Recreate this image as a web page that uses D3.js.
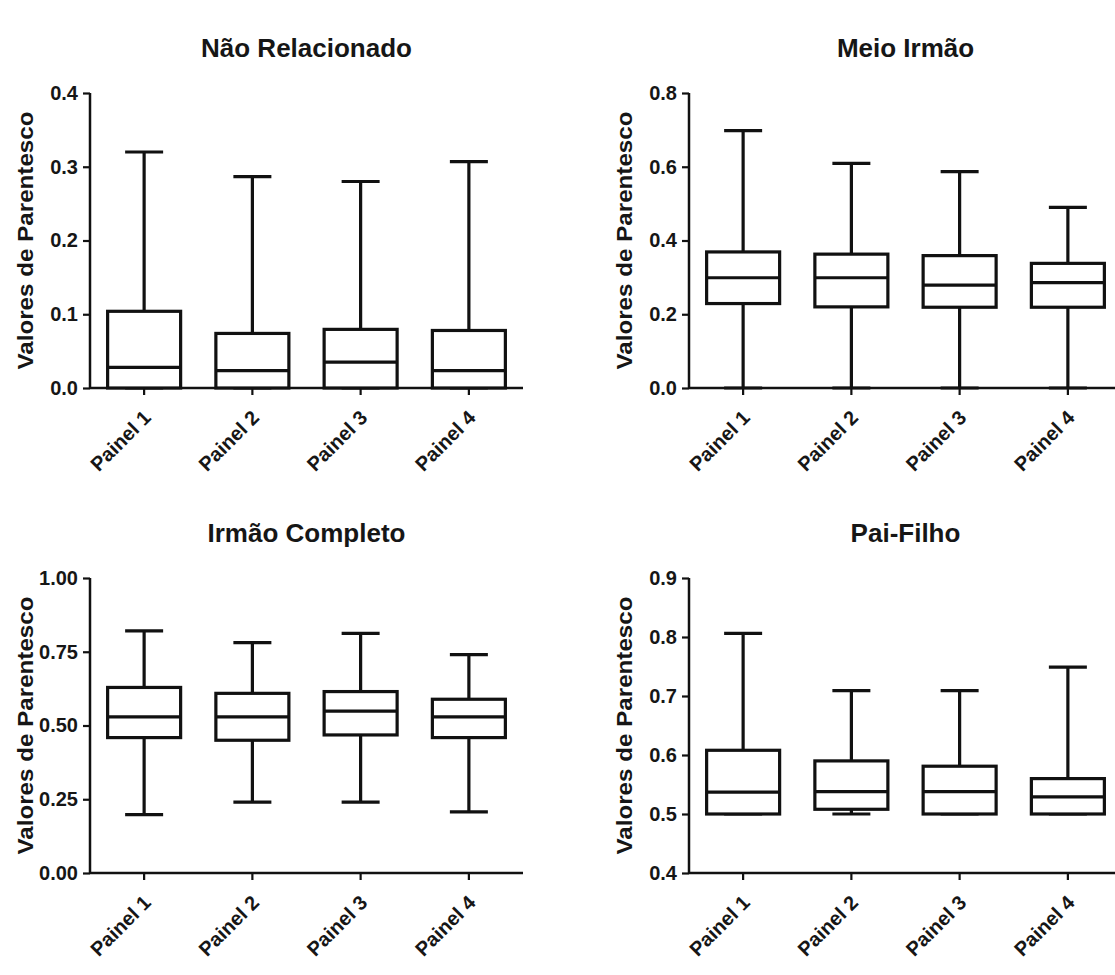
<!DOCTYPE html>
<html>
<head>
<meta charset="utf-8">
<script src="https://cdn.jsdelivr.net/npm/d3@7"></script>
<style>
  html, body { margin: 0; padding: 0; background: #ffffff; }
  svg { display: block; }
  text { font-family: "Liberation Sans", Arial, sans-serif; fill: #161616; }
</style>
</head>
<body>
<script>
// ---------- data ----------
const categories = ["Painel 1", "Painel 2", "Painel 3", "Painel 4"];
const panelTitles = ["Não Relacionado", "Meio Irmão", "Irmão Completo", "Pai-Filho"];
const yAxisTitle = "Valores de Parentesco";

// Não Relacionado
const naoRelMin    = [0, 0, 0, 0];
const naoRelQ1     = [0, 0, 0, 0];
const naoRelMedian = [0.028, 0.0235, 0.035, 0.0235];
const naoRelQ3     = [0.104, 0.074, 0.0795, 0.078];
const naoRelMax    = [0.320, 0.2865, 0.280, 0.307];
const naoRelTicks  = [0, 0.1, 0.2, 0.3, 0.4];

// Meio Irmão
const meioMin    = [0, 0, 0, 0];
const meioQ1     = [0.229, 0.220, 0.219, 0.219];
const meioMedian = [0.299, 0.299, 0.279, 0.286];
const meioQ3     = [0.369, 0.363, 0.359, 0.338];
const meioMax    = [0.698, 0.609, 0.587, 0.490];
const meioTicks  = [0, 0.2, 0.4, 0.6, 0.8];

// Irmão Completo
const irmaoMin    = [0.198, 0.240, 0.240, 0.207];
const irmaoQ1     = [0.459, 0.450, 0.468, 0.459];
const irmaoMedian = [0.529, 0.529, 0.549, 0.529];
const irmaoQ3     = [0.629, 0.609, 0.615, 0.589];
const irmaoMax    = [0.821, 0.781, 0.812, 0.740];
const irmaoTicks  = [0, 0.25, 0.5, 0.75, 1.0];

// Pai-Filho
const paiMin    = [0.5, 0.5, 0.5, 0.5];
const paiQ1     = [0.5, 0.508, 0.5, 0.5];
const paiMedian = [0.537, 0.538, 0.538, 0.529];
const paiQ3     = [0.608, 0.590, 0.581, 0.560];
const paiMax    = [0.806, 0.709, 0.709, 0.749];
const paiTicks  = [0.4, 0.5, 0.6, 0.7, 0.8, 0.9];

// ---------- layout ----------
const W = 1115, H = 975;
const svg = d3.select("body").append("svg").attr("width", W).attr("height", H);

const panels = [
  { title: panelTitles[0], min: naoRelMin, q1: naoRelQ1, med: naoRelMedian, q3: naoRelQ3, max: naoRelMax,
    ticks: naoRelTicks, fmt: d3.format(".1f"), x0: 90, x1: 523, yTop: 93, yBot: 388 },
  { title: panelTitles[1], min: meioMin, q1: meioQ1, med: meioMedian, q3: meioQ3, max: meioMax,
    ticks: meioTicks, fmt: d3.format(".1f"), x0: 689, x1: 1122, yTop: 93, yBot: 388 },
  { title: panelTitles[2], min: irmaoMin, q1: irmaoQ1, med: irmaoMedian, q3: irmaoQ3, max: irmaoMax,
    ticks: irmaoTicks, fmt: d3.format(".2f"), x0: 90, x1: 523, yTop: 578, yBot: 873 },
  { title: panelTitles[3], min: paiMin, q1: paiQ1, med: paiMedian, q3: paiQ3, max: paiMax,
    ticks: paiTicks, fmt: d3.format(".1f"), x0: 689, x1: 1122, yTop: 578, yBot: 873 }
];

const boxW = 73, capW = 38;

panels.forEach(p => {
  const g = svg.append("g");
  const x = d3.scaleBand().domain(categories).range([p.x0, p.x1]).paddingInner(0).paddingOuter(0);
  const y = d3.scaleLinear().domain([p.ticks[0], p.ticks[p.ticks.length - 1]]).range([p.yBot, p.yTop]);

  // title
  g.append("text")
    .attr("x", (p.x0 + p.x1) / 2)
    .attr("y", p.yTop - 36)
    .attr("text-anchor", "middle")
    .style("font-size", "26px")
    .style("font-weight", "bold")
    .text(p.title);

  // y axis
  const yAxis = g.append("g")
    .attr("transform", `translate(${p.x0},0)`)
    .call(d3.axisLeft(y).tickValues(p.ticks).tickFormat(p.fmt).tickSize(7).tickPadding(5));
  yAxis.select(".domain").attr("stroke", "#111").attr("stroke-width", 2.5).attr("d", `M0,${p.yTop}V${p.yBot}`);
  yAxis.selectAll(".tick line").attr("stroke", "#111").attr("stroke-width", 2.2);
  yAxis.selectAll(".tick text")
    .style("font-size", "20px").style("font-weight", "bold")
    .style("font-family", "'Liberation Sans', Arial, sans-serif").attr("fill", "#161616");

  // x axis
  const xAxis = g.append("g")
    .attr("transform", `translate(0,${p.yBot})`)
    .call(d3.axisBottom(x).tickSize(7).tickSizeOuter(0));
  xAxis.select(".domain").attr("stroke", "#111").attr("stroke-width", 2.5).attr("d", `M${p.x0},0H${p.x1}`);
  xAxis.selectAll(".tick line").attr("stroke", "#111").attr("stroke-width", 2.2);
  xAxis.selectAll(".tick text")
    .style("font-size", "20px").style("font-weight", "bold")
    .style("font-family", "'Liberation Sans', Arial, sans-serif").attr("fill", "#161616")
    .attr("text-anchor", "end")
    .attr("y", 0).attr("dy", 0)
    .attr("transform", "translate(8,31) rotate(-45)");

  // y axis title
  g.append("text")
    .attr("transform", `translate(${p.x0 - 57},${(p.yTop + p.yBot) / 2}) rotate(-90)`)
    .attr("text-anchor", "middle")
    .attr("textLength", 258)
    .attr("lengthAdjust", "spacingAndGlyphs")
    .style("font-size", "22px")
    .style("font-weight", "bold")
    .text(yAxisTitle);

  // boxes
  categories.forEach((c, i) => {
    const cx = x(c) + x.bandwidth() / 2;
    const bg = g.append("g").attr("stroke", "#111").attr("stroke-width", 3.2).attr("fill", "none");
    // whiskers
    bg.append("line").attr("x1", cx).attr("x2", cx).attr("y1", y(p.max[i])).attr("y2", y(p.q3[i]));
    bg.append("line").attr("x1", cx).attr("x2", cx).attr("y1", y(p.q1[i])).attr("y2", y(p.min[i]));
    bg.append("line").attr("x1", cx - capW / 2).attr("x2", cx + capW / 2).attr("y1", y(p.max[i])).attr("y2", y(p.max[i]));
    bg.append("line").attr("x1", cx - capW / 2).attr("x2", cx + capW / 2).attr("y1", y(p.min[i])).attr("y2", y(p.min[i]));
    // box
    bg.append("rect")
      .attr("x", cx - boxW / 2).attr("width", boxW)
      .attr("y", y(p.q3[i])).attr("height", y(p.q1[i]) - y(p.q3[i]))
      .attr("fill", "#fff");
    // median
    bg.append("line").attr("x1", cx - boxW / 2).attr("x2", cx + boxW / 2)
      .attr("y1", y(p.med[i])).attr("y2", y(p.med[i]));
  });
});
</script>
</body>
</html>
